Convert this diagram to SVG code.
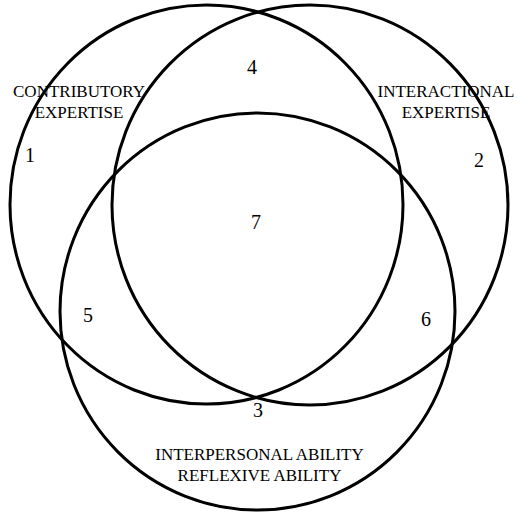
<svg xmlns="http://www.w3.org/2000/svg" width="517" height="515" viewBox="0 0 517 515">
<style>
.c{fill:none;stroke:#000;stroke-width:3}
.l{font-family:"Liberation Serif","Times New Roman",serif;font-size:17px;fill:#000;text-anchor:middle}
.n{font-family:"Liberation Serif","Times New Roman",serif;font-size:20px;fill:#000;text-anchor:middle}
</style>
<rect width="517" height="515" fill="#fff"/>
<g id="connectors"></g>
<g id="contributory">
<ellipse class="c" cx="206.5" cy="204.5" rx="196.5" ry="199.5"/>
<text class="l" x="79" y="97">CONTRIBUTORY</text>
<text class="l" x="79" y="118">EXPERTISE</text>
<text class="n" x="30" y="162">1</text>
</g>
<g id="interactional">
<ellipse class="c" cx="310" cy="205" rx="198" ry="200"/>
<text class="l" x="446" y="97">INTERACTIONAL</text>
<text class="l" x="446" y="118">EXPERTISE</text>
<text class="n" x="479" y="167">2</text>
</g>
<g id="interpersonal">
<ellipse class="c" cx="257.5" cy="311.5" rx="197.5" ry="198.5"/>
<text class="l" x="259.5" y="460">INTERPERSONAL ABILITY</text>
<text class="l" x="259.5" y="481">REFLEXIVE ABILITY</text>
<text class="n" x="258" y="417">3</text>
</g>
<g id="regions">
<text class="n" x="252" y="74">4</text>
<text class="n" x="88" y="322">5</text>
<text class="n" x="426" y="326">6</text>
<text class="n" x="256" y="229">7</text>
</g>
</svg>
